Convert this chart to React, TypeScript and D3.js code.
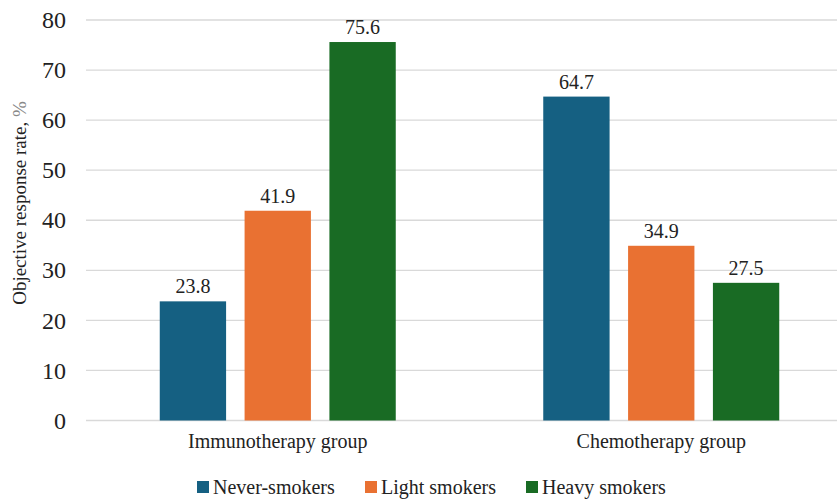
import React from "react";
import * as d3 from "d3";

const groups = ["Immunotherapy group", "Chemotherapy group"];
const seriesNames = ["Never-smokers", "Light smokers", "Heavy smokers"];
const neverSmokers = [23.8, 64.7];
const lightSmokers = [41.9, 34.9];
const heavySmokers = [75.6, 27.5];
const yTicks = [0, 10, 20, 30, 40, 50, 60, 70, 80];

const seriesValues = [neverSmokers, lightSmokers, heavySmokers];
const colors = ["#156082", "#E97132", "#196B24"];

const W = 837;
const H = 499;
const serif = { fontFamily: "Liberation Serif" };

export default function App() {
  const y = d3.scaleLinear().domain([0, 80]).range([420.5, 20]);
  const x0 = d3.scaleBand<string>().domain(groups).range([86, 853]).padding(0);
  const groupInner = 236;
  const x1 = d3
    .scaleBand<string>()
    .domain(seriesNames)
    .range([0, groupInner])
    .paddingInner(0.218)
    .paddingOuter(0);

  const legendX = [197, 365, 526];

  return (
    <svg
      width={W}
      height={H}
      style={{ position: "absolute", left: 0, top: 0, background: "#fff" }}
    >
      {yTicks.map((t) => (
        <g key={t}>
          <line x1={86} x2={W} y1={y(t)} y2={y(t)} stroke="#d9d9d9" strokeWidth={1.3} />
          <text x={66} y={y(t)} dy="0.34em" textAnchor="end" fontSize={24} fill="#222" style={serif}>
            {t}
          </text>
        </g>
      ))}
      <text
        transform={`translate(26,${203}) rotate(-90)`}
        textAnchor="middle"
        fontSize={19}
        fill="#222"
        style={serif}
      >
        Objective response rate, <tspan fill="#888">%</tspan>
      </text>
      {groups.map((g, gi) => {
        const cx = (x0(g) as number) + x0.bandwidth() / 2;
        const gx = cx - groupInner / 2;
        return (
          <g key={g}>
            {seriesNames.map((s, si) => {
              const v = seriesValues[si][gi];
              const bx = gx + (x1(s) as number);
              return (
                <g key={s}>
                  <rect
                    x={bx}
                    y={y(v)}
                    width={x1.bandwidth()}
                    height={y(0) - y(v)}
                    fill={colors[si]}
                  />
                  <text
                    x={bx + x1.bandwidth() / 2}
                    y={y(v) - 8}
                    textAnchor="middle"
                    fontSize={20}
                    fill="#222"
                    style={serif}
                  >
                    {v.toFixed(1)}
                  </text>
                </g>
              );
            })}
            <text x={cx} y={448} textAnchor="middle" fontSize={20} fill="#222" style={serif}>
              {g}
            </text>
          </g>
        );
      })}
      {seriesNames.map((s, si) => (
        <g key={s} transform={`translate(${legendX[si]},487)`}>
          <rect x={0} y={-6} width={12} height={12} fill={colors[si]} />
          <text x={16} y={0} dy="0.34em" fontSize={20} fill="#222" style={serif}>
            {s}
          </text>
        </g>
      ))}
    </svg>
  );
}
